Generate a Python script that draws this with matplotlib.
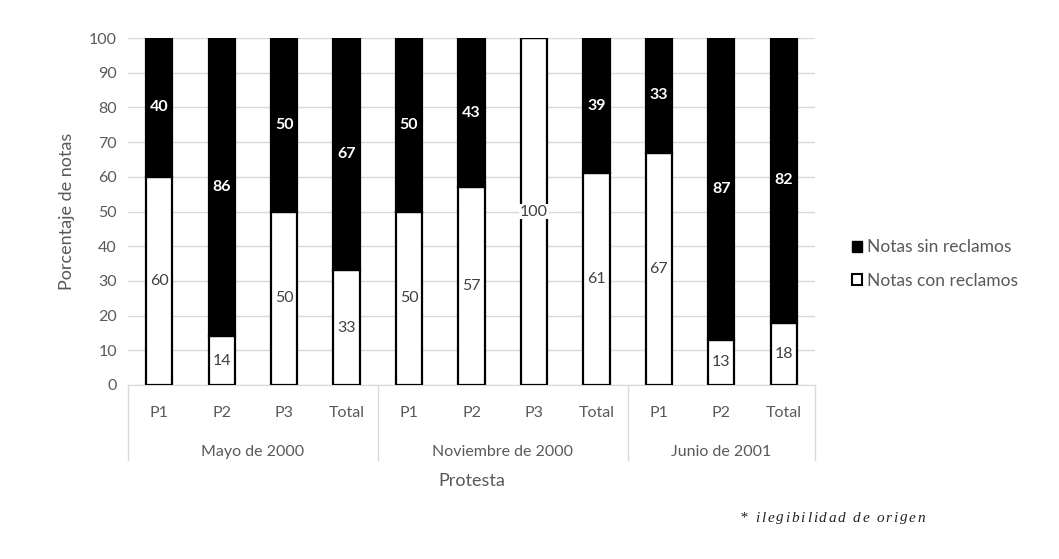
import matplotlib
matplotlib.use("Agg")
import matplotlib.pyplot as plt
from matplotlib.patches import Patch
from matplotlib.transforms import blended_transform_factory

categories = ["P1", "P2", "P3", "Total", "P1", "P2", "P3", "Total", "P1", "P2", "Total"]
groups = ["Mayo de 2000", "Noviembre de 2000", "Junio de 2001"]
group_sizes = [4, 4, 3]
con_reclamos = [60, 14, 50, 33, 50, 57, 100, 61, 67, 13, 18]
sin_reclamos = [40, 86, 50, 67, 50, 43, 0, 39, 33, 87, 82]
yticks = [0, 10, 20, 30, 40, 50, 60, 70, 80, 90, 100]
footnote = '* ilegibilidad de origen'

plt.rcParams['font.family'] = ['Lato', 'DejaVu Sans']
gray = '#595959'

fig = plt.figure(figsize=(10.59, 5.59), dpi=100)
ax = fig.add_axes([128/1059, 1-385/559, (815-128)/1059, (385-38)/559])

x = list(range(len(categories)))
w = 0.42
ax.bar(x, con_reclamos, w, color='white', edgecolor='black', linewidth=1.6, label='Notas con reclamos', zorder=3)
ax.bar(x, sin_reclamos, w, bottom=con_reclamos, color='black', edgecolor='black', linewidth=1.6, label='Notas sin reclamos', zorder=3)

for i in x:
    c = con_reclamos[i]
    s = sin_reclamos[i]
    ax.text(i, c/2, str(c), ha='center', va='center', color='#404040', fontsize=11.5, zorder=4,
            bbox=dict(facecolor='white', edgecolor='none', pad=0.5))
    if s > 0:
        ax.text(i, c + s/2, str(s), ha='center', va='center', color='white', fontsize=11.5, fontweight='bold', zorder=4)

ax.set_xlim(-0.5, len(categories) - 0.5)
ax.set_ylim(0, 100)
ax.set_yticks(yticks)
ax.yaxis.grid(True, color='#d9d9d9', linewidth=1, zorder=0)
ax.set_axisbelow(True)
for sp in ['top', 'right', 'left']:
    ax.spines[sp].set_visible(False)
ax.spines['bottom'].set_color('#d9d9d9')
ax.tick_params(axis='y', length=0, labelsize=11.5, labelcolor=gray, pad=8)
ax.set_xticks(x)
ax.set_xticklabels(categories)
ax.tick_params(axis='x', length=0, labelsize=11.5, labelcolor=gray, pad=15)

trans = blended_transform_factory(ax.transData, ax.transAxes)
bounds = [-0.5]
for g in group_sizes:
    bounds.append(bounds[-1] + g)
for b in bounds:
    ax.plot([b, b], [0, -0.215], transform=trans, color='#d9d9d9', linewidth=1, clip_on=False)
for k, g in enumerate(groups):
    mid = (bounds[k] + bounds[k+1]) / 2
    ax.text(mid, -0.192, g, transform=trans, ha='center', va='center', fontsize=11.5, color=gray)

ax.set_ylabel('Porcentaje de notas', fontsize=13, color=gray, labelpad=10)
fig.text((128+815)/2/1059, 1-481/559, 'Protesta', ha='center', va='center', fontsize=13, color=gray)

handles = [Patch(facecolor='black', edgecolor='black', label='Notas sin reclamos'),
           Patch(facecolor='white', edgecolor='black', linewidth=1.5, label='Notas con reclamos')]
fig.legend(handles=handles, loc='center left', bbox_to_anchor=(836/1059, 1-264/559), frameon=False,
           fontsize=12.5, labelcolor=gray, handlelength=0.6, handleheight=0.6, handletextpad=0.3,
           labelspacing=1.0)

# letter-spaced footnote
fig.canvas.draw()
renderer = fig.canvas.get_renderer()
xpos = 740.0
ypix = 518.0
spacing = 1.8
for ch in footnote:
    t = fig.text(xpos/1059, 1-ypix/559, ch, ha='left', va='center', fontsize=11,
                 family='Liberation Serif', style='italic', color='#222222')
    if ch == ' ':
        tw = fig.text(0, 0, 'a a', fontsize=11, family='Liberation Serif', style='italic')
        ta = fig.text(0, 0, 'aa', fontsize=11, family='Liberation Serif', style='italic')
        wdt = tw.get_window_extent(renderer).width - ta.get_window_extent(renderer).width
        tw.remove(); ta.remove()
    else:
        wdt = t.get_window_extent(renderer).width
    xpos += wdt + spacing

fig.savefig('out.png', dpi=100, facecolor='white')
